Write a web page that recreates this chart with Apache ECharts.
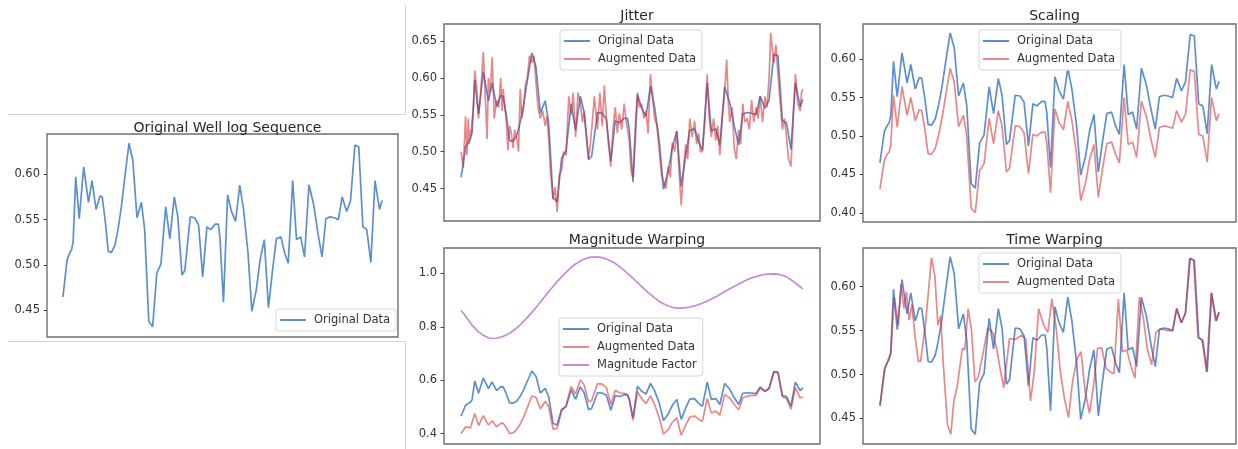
<!DOCTYPE html>
<html><head><meta charset="utf-8">
<script src="https://cdn.jsdelivr.net/npm/echarts@6/dist/echarts.min.js"></script>
<style>html,body{margin:0;padding:0;background:#fff}#c{width:1238px;height:449px}</style>
</head><body><div id="c"></div>
<script>
// sample position (time index) for the original sequence
const depth = [0,1.3,2.1,2.7,3.2,4.0,5.1,6.5,8.0,9.1,10.4,11.6,12.3,13.2,14.2,15.2,16.3,17.3,18.3,19.4,20.7,21.9,23.2,24.6,25.6,26.9,28.1,29.4,30.7,32.2,33.5,34.9,36.0,37.3,38.2,39.9,41.3,42.5,43.8,45.1,46.3,47.7,48.7,49.2,50.3,51.6,52.8,54.1,55.4,56.6,58.0,59.2,60.6,61.8,63.1,64.4,65.7,66.9,68.3,69.5,70.6,72.0,73.2,74.5,75.7,77.1,78.6,79.9,81.2,82.4,83.7,85.0,86.3,87.5,88.9,90.1,91.5,92.7,94.0,95.2,96.5,97.8,99.2,100];
const original = [0.465,0.506,0.513,0.517,0.526,0.597,0.551,0.608,0.569,0.593,0.561,0.576,0.575,0.550,0.515,0.514,0.522,0.540,0.564,0.597,0.634,0.615,0.552,0.569,0.539,0.438,0.432,0.491,0.501,0.564,0.529,0.575,0.553,0.489,0.494,0.553,0.552,0.544,0.487,0.542,0.539,0.545,0.545,0.530,0.459,0.577,0.559,0.548,0.588,0.561,0.513,0.449,0.473,0.506,0.528,0.453,0.495,0.529,0.531,0.513,0.502,0.593,0.528,0.531,0.509,0.588,0.566,0.535,0.509,0.551,0.553,0.552,0.550,0.575,0.559,0.570,0.632,0.630,0.542,0.539,0.503,0.593,0.561,0.571];
const scaled = [0.431,0.469,0.476,0.479,0.488,0.553,0.511,0.564,0.527,0.550,0.520,0.534,0.533,0.510,0.477,0.476,0.484,0.501,0.523,0.553,0.588,0.570,0.512,0.527,0.500,0.406,0.400,0.455,0.464,0.523,0.490,0.533,0.513,0.453,0.458,0.513,0.512,0.504,0.451,0.502,0.500,0.505,0.505,0.491,0.426,0.535,0.518,0.508,0.545,0.520,0.476,0.416,0.438,0.469,0.489,0.420,0.459,0.490,0.492,0.476,0.465,0.550,0.489,0.492,0.472,0.545,0.525,0.496,0.472,0.511,0.513,0.512,0.510,0.533,0.518,0.528,0.586,0.584,0.502,0.500,0.466,0.550,0.520,0.529];
const magFactor = [0.861,0.840,0.825,0.815,0.806,0.795,0.781,0.768,0.759,0.756,0.757,0.761,0.764,0.769,0.776,0.785,0.796,0.807,0.820,0.835,0.854,0.872,0.892,0.915,0.931,0.951,0.969,0.987,1.004,1.022,1.035,1.046,1.053,1.059,1.061,1.062,1.059,1.054,1.046,1.037,1.026,1.011,1.000,0.994,0.981,0.965,0.951,0.935,0.921,0.908,0.895,0.886,0.878,0.873,0.870,0.870,0.872,0.874,0.878,0.883,0.889,0.896,0.904,0.912,0.921,0.931,0.942,0.951,0.960,0.968,0.976,0.983,0.988,0.992,0.996,0.997,0.998,0.997,0.993,0.987,0.976,0.964,0.950,0.942];
const magWarped = [0.400,0.425,0.423,0.421,0.424,0.475,0.430,0.467,0.432,0.448,0.425,0.438,0.439,0.423,0.400,0.403,0.416,0.436,0.462,0.498,0.541,0.536,0.492,0.521,0.502,0.417,0.419,0.485,0.503,0.576,0.548,0.601,0.582,0.518,0.524,0.587,0.585,0.573,0.509,0.562,0.553,0.551,0.545,0.527,0.450,0.557,0.532,0.512,0.542,0.509,0.459,0.398,0.415,0.442,0.459,0.394,0.432,0.462,0.466,0.453,0.446,0.531,0.477,0.484,0.469,0.547,0.533,0.509,0.489,0.533,0.540,0.543,0.543,0.570,0.557,0.568,0.631,0.628,0.538,0.532,0.491,0.572,0.533,0.538];
const jitter = [[0,0.500],[0.65,0.478],[1.3,0.548],[1.7,0.495],[2.1,0.545],[2.4,0.510],[2.7,0.530],[3.0,0.522],[3.2,0.540],[3.6,0.560],[4.0,0.610],[4.5,0.590],[5.1,0.545],[5.8,0.585],[6.5,0.635],[7.2,0.560],[7.6,0.517],[8.0,0.600],[8.5,0.580],[9.1,0.628],[9.7,0.545],[10.4,0.570],[11.0,0.560],[11.6,0.600],[12.0,0.555],[12.3,0.585],[12.8,0.560],[13.2,0.545],[13.7,0.502],[14.2,0.535],[14.7,0.525],[15.2,0.505],[15.7,0.530],[16.3,0.518],[16.8,0.500],[17.3,0.585],[17.8,0.545],[18.3,0.560],[18.8,0.590],[19.4,0.600],[20.0,0.630],[20.7,0.620],[21.3,0.630],[21.9,0.595],[22.5,0.560],[23.2,0.545],[23.9,0.555],[24.6,0.535],[25.1,0.548],[25.6,0.520],[26.2,0.470],[26.9,0.435],[27.5,0.452],[28.1,0.418],[28.7,0.468],[29.4,0.475],[30.0,0.500],[30.7,0.495],[31.5,0.575],[32.2,0.550],[32.8,0.580],[33.5,0.520],[34.2,0.580],[34.9,0.565],[35.5,0.540],[36.0,0.555],[36.7,0.520],[37.3,0.490],[37.8,0.510],[38.2,0.530],[39.0,0.575],[39.9,0.530],[40.6,0.580],[41.3,0.535],[41.9,0.590],[42.5,0.545],[43.1,0.510],[43.8,0.480],[44.5,0.535],[45.1,0.560],[45.7,0.525],[46.3,0.552],[47.0,0.530],[47.7,0.565],[48.2,0.545],[48.7,0.530],[49.2,0.515],[49.7,0.475],[50.3,0.465],[51.0,0.535],[51.6,0.580],[52.2,0.560],[52.8,0.565],[53.5,0.545],[54.1,0.555],[54.7,0.525],[55.4,0.605],[56.0,0.575],[56.6,0.545],[57.3,0.535],[58.0,0.500],[58.6,0.470],[59.2,0.460],[59.9,0.450],[60.6,0.480],[61.2,0.465],[61.8,0.512],[62.5,0.500],[63.1,0.528],[63.7,0.480],[64.4,0.427],[65.0,0.470],[65.7,0.510],[66.3,0.490],[66.9,0.545],[67.6,0.520],[68.3,0.542],[68.9,0.510],[69.5,0.525],[70.0,0.500],[70.6,0.500],[71.3,0.540],[72.0,0.605],[72.6,0.545],[73.2,0.520],[73.9,0.545],[74.5,0.515],[75.1,0.535],[75.7,0.495],[76.4,0.545],[77.1,0.580],[77.7,0.625],[78.2,0.565],[78.6,0.540],[79.3,0.560],[79.9,0.505],[80.5,0.490],[81.2,0.530],[81.8,0.510],[82.4,0.565],[83.0,0.540],[83.7,0.545],[84.3,0.530],[85.0,0.570],[85.6,0.540],[86.3,0.560],[86.9,0.545],[87.5,0.575],[88.2,0.540],[88.9,0.575],[89.5,0.560],[90.1,0.600],[90.6,0.661],[91.5,0.620],[92.1,0.645],[92.7,0.605],[93.3,0.570],[94.0,0.530],[94.6,0.545],[95.2,0.520],[95.8,0.490],[96.5,0.480],[97.1,0.540],[97.8,0.605],[98.5,0.565],[99.2,0.555],[99.6,0.580],[100,0.585]];
const timeWarped = [[0,0.464],[1.5,0.507],[2.4,0.517],[3.2,0.524],[4.2,0.588],[5.4,0.556],[6.2,0.603],[7.1,0.575],[7.8,0.594],[8.6,0.562],[9.4,0.580],[10.3,0.545],[11.3,0.515],[12.0,0.515],[13.5,0.560],[15.2,0.633],[16.2,0.612],[17.1,0.556],[17.9,0.567],[18.7,0.511],[19.9,0.443],[20.9,0.432],[21.8,0.470],[22.8,0.487],[24.3,0.530],[25.0,0.528],[26.0,0.575],[27.0,0.550],[28.0,0.492],[29.0,0.497],[30.5,0.526],[31.8,0.553],[33.2,0.548],[34.5,0.528],[35.5,0.505],[36.5,0.485],[38.2,0.541],[40.0,0.540],[41.8,0.545],[43.0,0.540],[44.4,0.470],[45.5,0.503],[46.8,0.575],[48.3,0.556],[49.5,0.548],[50.7,0.586],[52.0,0.552],[53.2,0.503],[54.4,0.473],[55.6,0.451],[56.8,0.492],[58.1,0.518],[59.3,0.526],[60.5,0.481],[61.8,0.456],[63.0,0.488],[64.2,0.530],[65.4,0.530],[66.7,0.507],[67.9,0.503],[69.0,0.501],[70.3,0.586],[71.5,0.526],[72.8,0.528],[73.9,0.511],[75.2,0.496],[76.5,0.588],[77.7,0.564],[78.8,0.530],[80.1,0.511],[81.4,0.548],[82.6,0.552],[83.7,0.551],[85.0,0.550],[86.3,0.550],[87.5,0.575],[88.9,0.559],[90.1,0.570],[91.3,0.632],[92.5,0.630],[93.8,0.542],[95.0,0.539],[96.3,0.503],[97.7,0.593],[99.0,0.561],[100,0.571]];
const titles = ['Original Well log Sequence','Jitter','Scaling','Magnitude Warping','Time Warping'];
const yRanges = [[0.4208,0.6442],[0.406,0.673],[0.388,0.6457],[0.361,1.095],[0.421,0.644]];

const pair = (vals) => depth.map((t,i)=>[t, vals[i]]);
const FONT = 'DejaVu Sans';
const BLUE = 'rgba(31,100,190,0.72)', RED = 'rgba(214,39,40,0.55)', PURPLE = 'rgba(178,102,200,0.75)';
const grids = [
  {left:47, top:134, width:351, height:203},
  {left:444, top:24, width:376, height:197},
  {left:863, top:24, width:373, height:198},
  {left:444, top:248, width:376, height:196},
  {left:863, top:248, width:373, height:196}
];
const titleTops = [116, 4, 4, 228, 228];
const legendPos = [[276,309],[560,30],[979,30],[559,318],[979,253]];
const legendData = [['Original Data'],['Original Data','Augmented Data'],['Original Data','Augmented Data'],['Original Data','Augmented Data','Magnitude Factor'],['Original Data','Augmented Data']];

function line(name, data, idx, color){
  return {type:'line', name, data, xAxisIndex:idx, yAxisIndex:idx, showSymbol:false, symbol:'none',
    lineStyle:{color, width:1.7}, itemStyle:{color}, animation:false, z:2};
}
const series = [
  line('Original Data', pair(original), 0, BLUE),
  line('Original Data', pair(original), 1, BLUE),
  line('Augmented Data', jitter, 1, RED),
  line('Original Data', pair(original), 2, BLUE),
  line('Augmented Data', pair(scaled), 2, RED),
  line('Original Data', pair(original), 3, BLUE),
  line('Augmented Data', pair(magWarped), 3, RED),
  line('Magnitude Factor', pair(magFactor), 3, PURPLE),
  line('Original Data', pair(original), 4, BLUE),
  line('Augmented Data', timeWarped, 4, RED)
];

const option = {
  animation:false,
  textStyle:{fontFamily:FONT},
  title: titles.map((t,i)=>({text:t, left:grids[i].left+grids[i].width/2, top:titleTops[i], textAlign:'center',
     textStyle:{fontFamily:FONT, fontSize:14, fontWeight:'normal', color:'#262626'}})),
  grid: grids.map(g=>Object.assign({show:true, borderColor:'#6e6e6e', borderWidth:1.4, backgroundColor:'transparent', containLabel:false}, g)),
  xAxis: grids.map((g,i)=>({type:'value', gridIndex:i, min:-5, max:105, show:false})),
  yAxis: grids.map((g,i)=>({type:'value', gridIndex:i, min:yRanges[i][0], max:yRanges[i][1], splitNumber: i===3?4:5,
     axisLine:{show:false, onZero:false}, splitLine:{show:false},
     axisTick:{show:true, length:3.5, lineStyle:{color:'#444', width:1}},
     axisLabel:{showMinLabel:false, showMaxLabel:false, margin:7, fontFamily:FONT, fontSize:11.5, color:'#333',
        formatter:(v)=> i===3 ? v.toFixed(1) : v.toFixed(2)}})),
  legend: legendPos.map((p,i)=>({left:p[0], top:p[1], orient:'vertical', data:legendData[i],
     backgroundColor:'rgba(255,255,255,0.85)', borderColor:'#d6d6d6', borderWidth:1, borderRadius:3,
     padding:[4,6,4,4], itemGap:4, itemWidth:26, itemHeight:2, icon:'rect', selectedMode:false,
     textStyle:{fontFamily:FONT, fontSize:11.5, color:'#333', lineHeight:14, padding:[0,0,0,3]}})),
  graphic: [
    {type:'line', shape:{x1:8,y1:114.5,x2:405.5,y2:114.5}, style:{stroke:'#d4d4d4', lineWidth:1.2}, silent:true},
    {type:'line', shape:{x1:405.5,y1:5,x2:405.5,y2:114.5}, style:{stroke:'#d4d4d4', lineWidth:1.2}, silent:true},
    {type:'line', shape:{x1:8,y1:341.5,x2:405.5,y2:341.5}, style:{stroke:'#d4d4d4', lineWidth:1.2}, silent:true},
    {type:'line', shape:{x1:405.5,y1:341.5,x2:405.5,y2:449}, style:{stroke:'#d4d4d4', lineWidth:1.2}, silent:true}
  ],
  series
};
const chart = echarts.init(document.getElementById('c'), null, {renderer:'canvas'});
chart.setOption(option);
</script></body></html>
